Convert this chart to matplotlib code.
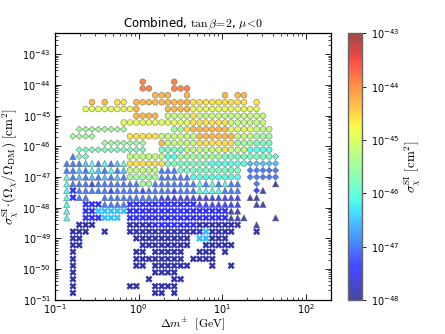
import numpy as np
import matplotlib
matplotlib.use("Agg")
import matplotlib.pyplot as plt
from matplotlib.colors import LogNorm
from matplotlib.ticker import LogLocator, NullFormatter, FixedLocator
import matplotlib.cm as cm

plt.rcParams['mathtext.fontset'] = 'cm'
plt.rcParams['font.family'] = ['DejaVu Sans']
plt.rcParams['axes.unicode_minus'] = False

# ---- data (binned scan) ----
# bin centres of mass splitting [GeV], one per column
X_COLS = [0.138, 0.164, 0.195, 0.233, 0.277, 0.330, 0.393, 0.468, 0.557, 0.663,
          0.789, 0.940, 1.12, 1.33, 1.58, 1.89, 2.24, 2.67, 3.18, 3.79,
          4.51, 5.37, 6.39, 7.61, 9.06, 10.8, 12.8, 15.3, 18.2, 21.6,
          25.8, 30.7, 36.5, 43.5]
# log10 of rescaled cross section [cm^2], one per row (top to bottom)
Y_ROWS_EXP = [-43.89, -44.11, -44.33, -44.56, -44.78, -45.00, -45.22, -45.44,
              -45.67, -45.89, -46.11, -46.33, -46.56, -46.78, -47.00, -47.22,
              -47.44, -47.67, -47.89, -48.11, -48.33, -48.56, -48.78, -49.00,
              -49.22, -49.44, -49.67, -49.89, -50.11, -50.33, -50.56, -50.78]
# colour code -> log10 sigma_SI
COLOR_LEVELS = {'9': -43.9, '8': -44.3, '7': -44.6, '6': -44.9, '5': -45.2,
                '4': -45.5, '3': -45.8, '2': -46.1, '1': -46.5, '0': -47.0,
                'b': -47.4, 'n': -47.9}
# marker type per cell: o circle, d diamond, ^ triangle, x cross
MARKER_ROWS = [
    ".......... ..o....o.. .......... ....",
    ".......... ..oo...ooo .......... ....",
    ".......... ....ooo..o .....o.oo. ....",
    "....o.o.oo .ooooooooo ooooooooo. o...",
    "...ooooooo oo....oooo oooooooooo o...",
    ".......... .oooo.oooo oooooooooo oo..",
    ".........o oooooooooo oooooooooo oo..",
    "..dddddddd .......ooo oooooooooo ooo.",
    ".dddd..... oooooooooo oooooooooo ooo.",
    "......dddd ddd..ooooo oooooooooo ooo.",
    "..dddddddd ddd..ooooo oooooooooo ooo.",
    ".^dd...... oooooooooo oooooooooo oood",
    "^^^^^^^^^^ oooooooooo oooooooood dddd",
    "^^^^^^^^^^ ooooo^^^oo oooooooo.d dddd",
    "^^^^^^^^^^ ooooo^^^^^ oooooooo.d dddd",
    "^^^^^^^^^^ ^^oo^^^^^^ ^^^^^^^^.. d..^",
    "^x^^^^^^^^ ^^^^^^^^^^ ^^^^^^^^.. d^..",
    "^x^^..^^^^ ^^^^^^^^^^ ^^^^^^^^.^ ^...",
    "^..xxx^^^^ xxxxxxxxxx x^^^^^^^.. ^^..",
    "^..xxxxxxx xxxxxxxxxx xxxxxx^^.. ....",
    "^..xxxxxx. xxxxxxxxxx xxxxxx^^^. ...^",
    "..xxx..... xxxxxxxxxx xxxxxxxx.. ^...",
    ".xxx..x... xxxxxxxxxx xxxxxxx... x...",
    ".xx....... .xxxxxxxxx .xxxxx.... ....",
    ".xx....... ..xxxxxxxx ..xxxxx... ....",
    ".x........ .xx.xxxxx. .xxx.x.... ....",
    ".x........ .xxxxxxxx. xxxx...... ....",
    ".x........ .xx.xxxxxx ...x..x... ....",
    ".x........ ....xxxx.. .......... ....",
    ".x........ ...x...xx. .......... ....",
    ".x........ xx..xxxx.. .......... ....",
    ".x........ ....xx.x.. .......... ....",
]
COLOR_ROWS = [
    ".......... ..9....9.. .......... ....",
    ".......... ..99...999 .......... ....",
    ".......... ....888..8 .....8.88. ....",
    "....8.8.77 .888888888 777777777. 7...",
    "...6666666 68....8888 6666666666 6...",
    ".......... .8888.5555 7555555555 55..",
    ".........6 6666666666 7777775555 55..",
    "..44444444 .......447 8888886666 555.",
    ".4444..... 7777755555 5888888555 444.",
    "......4444 444..85555 5777777444 333.",
    "..33333333 333..33335 5555575552 222.",
    ".033...... 5555552244 4444433333 3332",
    "0001202012 7777773333 3332222221 1111",
    "0010210201 5555500033 33333333.0 0000",
    "2010101010 4444400000 22222222.0 0000",
    "2000b00000 0044000000 02020200.. 0..n",
    "2b00000b00 00b0000b00 02222000.. bn..",
    "2b00..0000 00000bbbbb bbbbbbbb.n n...",
    "2..bbb0000 bbbbbbbbbb bbbbbbbb.. nn..",
    "2..bb11111 bbbbbbbbbb bbbbbbnn.. ....",
    "2..bbb111. bbbbbbbbbb bbbbbbnnn. ...n",
    "..nnn..... nnnnbbbbbb bnnnnnnn.. n...",
    ".nnn..n... nnnnnnnnnn nb1nnnn... n...",
    ".nn....... .nnnnnnnnn .11nnn.... ....",
    ".nn....... ..nnnnnnnn ..nnnnn... ....",
    ".n........ .nn.nnnnn. .nnn.n.... ....",
    ".n........ .nnnnnnnn. nnnn...... ....",
    ".n........ .nn.nnnnnn ...n..n... ....",
    ".n........ ....nnnn.. .......... ....",
    ".n........ ...n...nn. .......... ....",
    ".n........ nn..nnnn.. .......... ....",
    ".n........ ....nn.n.. .......... ....",
]
Y_TICK_EXP = [-51, -50, -49, -48, -47, -46, -45, -44, -43]
X_TICK_EXP = [-1, 0, 1, 2]
CB_TICK_EXP = [-48, -47, -46, -45, -44, -43]

MARKERS = {'o': ('o', 17, 0.45), 'd': ('D', 10, 0.45),
           '^': ('^', 20, 0.45), 'x': ('X', 26, 0.0)}

# ---- collect cells ----
pts = {k: ([], [], []) for k in MARKERS}
for j, (mrow, crow) in enumerate(zip(MARKER_ROWS, COLOR_ROWS)):
    mrow = mrow.replace(' ', '').ljust(len(X_COLS), '.')
    crow = crow.replace(' ', '').ljust(len(X_COLS), '.')
    for k, (m, c) in enumerate(zip(mrow, crow)):
        if m == '.' or c == '.':
            continue
        pts[m][0].append(X_COLS[k])
        pts[m][1].append(10.0 ** Y_ROWS_EXP[j])
        pts[m][2].append(10.0 ** COLOR_LEVELS[c])

fig = plt.figure(figsize=(4.45, 3.34), dpi=100)
ax = fig.add_axes([0.1236, 0.1027, 0.6202, 0.7985])
cax = fig.add_axes([0.782, 0.1018, 0.0315, 0.7985])

norm = LogNorm(1e-48, 1e-43)
cmap = plt.get_cmap('jet')
alpha = 0.72

for key in ['x', '^', 'd', 'o']:
    mk, s, lw = MARKERS[key]
    xs, ys, cs = pts[key]
    if key == 'x':
        ax.scatter(xs, ys, c=cs, cmap=cmap, norm=norm, marker=mk, s=s,
                   edgecolors='none', alpha=0.8, zorder=2)
    else:
        ax.scatter(xs, ys, c=cs, cmap=cmap, norm=norm, marker=mk, s=s,
                   edgecolors='0.35', linewidths=lw, alpha=alpha, zorder=3)

ax.set_xscale('log')
ax.set_yscale('log')
ax.set_xlim(0.1, 200)
ax.set_ylim(1e-51, 5e-43)
ax.yaxis.set_major_locator(FixedLocator([10.0 ** e for e in Y_TICK_EXP]))
ax.yaxis.set_minor_locator(LogLocator(base=10, subs=np.arange(2, 10), numticks=200))
ax.yaxis.set_minor_formatter(NullFormatter())
ax.xaxis.set_major_locator(FixedLocator([10.0 ** e for e in X_TICK_EXP]))
ax.xaxis.set_minor_locator(LogLocator(base=10, subs=np.arange(2, 10), numticks=200))
ax.xaxis.set_minor_formatter(NullFormatter())
ax.tick_params(which='both', direction='in', top=True, right=True, labelsize=7)
ax.tick_params(which='major', length=4, width=0.6, pad=3)
ax.tick_params(axis='x', which='major', pad=2)
ax.tick_params(which='minor', length=2, width=0.5)
for sp in ax.spines.values():
    sp.set_linewidth(0.9)

ax.set_title(r'Combined, $\tan\beta\!=\!2$, $\mu\!<\!0$', fontsize=8.5, pad=4)
ax.set_xlabel(r'$\Delta m^{\pm}\ \ [\rm GeV]$', fontsize=8.5)
ax.xaxis.set_label_coords(0.5, -0.06)
ax.set_ylabel(r'$\sigma_\chi^{\rm SI}\!\cdot\!(\Omega_\chi/\Omega_{\rm DM})\ [{\rm cm}^2]$',
              fontsize=9.5, labelpad=1)

sm = cm.ScalarMappable(norm=norm, cmap=cmap)
sm.set_array([])
cb = fig.colorbar(sm, cax=cax, alpha=alpha)
cb.set_ticks([10.0 ** e for e in CB_TICK_EXP])
cb.minorticks_off()
cb.outline.set_edgecolor('0.4')
cb.outline.set_linewidth(1.0)
cax.tick_params(labelsize=7, length=3, width=0.6)
cb.set_label(r'$\sigma_\chi^{\rm SI}\ [{\rm cm}^2]$', fontsize=9.5, labelpad=2)

fig.savefig('out.png', dpi=100)
